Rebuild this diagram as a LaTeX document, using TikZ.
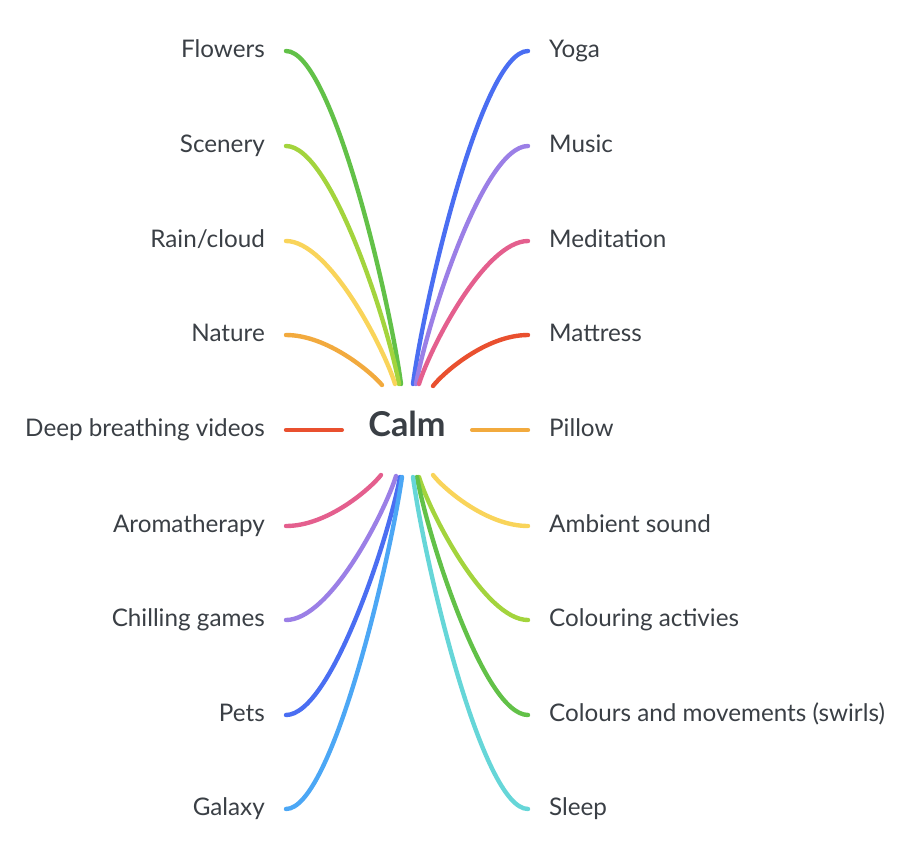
\documentclass[tikz,border=0pt]{standalone}
\usepackage{fontspec}
\setmainfont{Lato}

\definecolor{labeltext}{HTML}{3A3F45}
\definecolor{cgreen}{HTML}{62C148}
\definecolor{clime}{HTML}{A3D43D}
\definecolor{cyellow}{HTML}{F9D45A}
\definecolor{corange}{HTML}{F2AA3E}
\definecolor{cred}{HTML}{E9502F}
\definecolor{cpink}{HTML}{E45F8E}
\definecolor{cpurple}{HTML}{9B7FE6}
\definecolor{cblue}{HTML}{4A6EF2}
\definecolor{cskyblue}{HTML}{4CA7F5}
\definecolor{ccyan}{HTML}{66D6D8}

\begin{document}
\begin{tikzpicture}[x=0.02cm,y=-0.02cm,line width=2.5pt,line cap=round,
  leaf/.style={inner xsep=0.38cm, inner ysep=0pt, text height=0.72em, text depth=0pt,
    text=labeltext, font=\fontsize{13.8}{16}\selectfont},
  leftleaf/.style={leaf, anchor=east},
  rightleaf/.style={leaf, anchor=west}]
\useasboundingbox (0,0) rectangle (916,866);

% centre
\node[minimum width=2.52cm, inner ysep=0pt, text height=0.72em, text depth=0pt,
  text=labeltext, font=\fontsize{19.5}{22}\bfseries\selectfont] (calm) at (407,430) {Calm};

% left labels
\node[leftleaf] (flowers) at (286,51) {Flowers};
\node[leftleaf] (scenery) at (286,146) {Scenery};
\node[leftleaf] (rain) at (286,241) {Rain/cloud};
\node[leftleaf] (nature) at (286,335) {Nature};
\node[leftleaf] (breathing) at (286,430) {Deep breathing videos};
\node[leftleaf] (aroma) at (286,526) {Aromatherapy};
\node[leftleaf] (games) at (286,620) {Chilling games};
\node[leftleaf] (pets) at (286,715) {Pets};
\node[leftleaf] (galaxy) at (286,809) {Galaxy};

% right labels
\node[rightleaf] (yoga) at (528,51) {Yoga};
\node[rightleaf] (music) at (528,146) {Music};
\node[rightleaf] (meditation) at (528,241) {Meditation};
\node[rightleaf] (mattress) at (528,335) {Mattress};
\node[rightleaf] (pillow) at (528,430) {Pillow};
\node[rightleaf] (ambient) at (528,526) {Ambient sound};
\node[rightleaf] (colouring) at (528,620) {Colouring activies};
\node[rightleaf] (swirls) at (528,715) {Colours and movements (swirls)};
\node[rightleaf] (sleep) at (528,809) {Sleep};

% branch ends round the centre
\coordinate (flowers-end) at (401,384);
\coordinate (scenery-end) at (399,384);
\coordinate (rain-end) at (395,384);
\coordinate (nature-end) at (382,385);
\coordinate (yoga-end) at (413,384);
\coordinate (music-end) at (416,384);
\coordinate (meditation-end) at (419,384);
\coordinate (mattress-end) at (433,386);
\coordinate (aroma-end) at (381,475);
\coordinate (games-end) at (396,476);
\coordinate (pets-end) at (400,477);
\coordinate (galaxy-end) at (402,477);
\coordinate (ambient-end) at (433,475);
\coordinate (colouring-end) at (419,477);
\coordinate (swirls-end) at (417,477);
\coordinate (sleep-end) at (413,477);

\draw[cgreen] (flowers.east) .. controls +(46,0) and +(-11,-83) .. (flowers-end);
\draw[clime] (scenery.east) .. controls +(45,0) and +(-11,-60) .. (scenery-end);
\draw[cyellow] (rain.east) .. controls +(43,0) and +(-11,-36) .. (rain-end);
\draw[corange] (nature.east) .. controls +(42,0) and +(-10,-12) .. (nature-end);
\draw[cred] (breathing.east) -- (calm.west);
\draw[cpink] (aroma.east) .. controls +(42,0) and +(-10,13) .. (aroma-end);
\draw[cpurple] (games.east) .. controls +(44,0) and +(-11,36) .. (games-end);
\draw[cblue] (pets.east) .. controls +(45,0) and +(-11,60) .. (pets-end);
\draw[cskyblue] (galaxy.east) .. controls +(46,0) and +(-12,83) .. (galaxy-end);

\draw[cblue] (yoga.west) .. controls +(-46,0) and +(11,-83) .. (yoga-end);
\draw[cpurple] (music.west) .. controls +(-45,0) and +(11,-60) .. (music-end);
\draw[cpink] (meditation.west) .. controls +(-43,0) and +(11,-36) .. (meditation-end);
\draw[cred] (mattress.west) .. controls +(-42,0) and +(10,-13) .. (mattress-end);
\draw[corange] (calm.east) -- (pillow.west);
\draw[cyellow] (ambient.west) .. controls +(-42,0) and +(10,13) .. (ambient-end);
\draw[clime] (colouring.west) .. controls +(-43,0) and +(11,36) .. (colouring-end);
\draw[cgreen] (swirls.west) .. controls +(-44,0) and +(11,60) .. (swirls-end);
\draw[ccyan] (sleep.west) .. controls +(-46,0) and +(11,83) .. (sleep-end);
\end{tikzpicture}
\end{document}
